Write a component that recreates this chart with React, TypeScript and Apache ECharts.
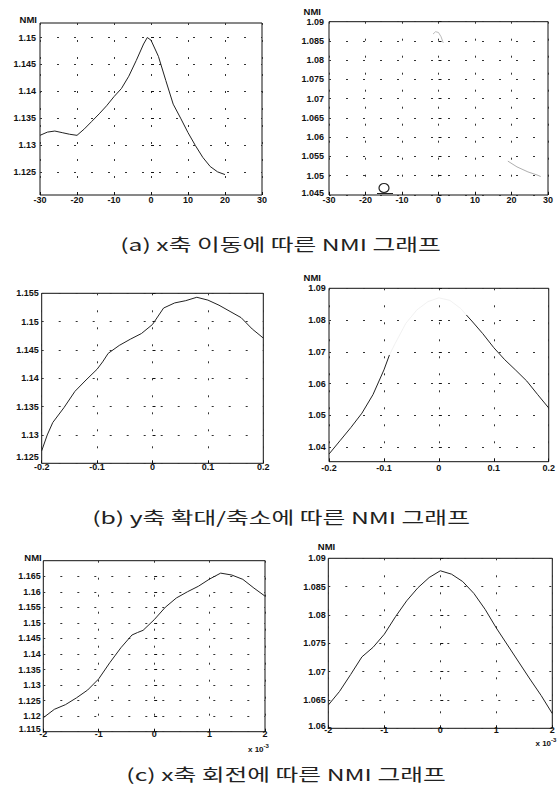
import React, { useEffect, useRef } from "react";
import * as echarts from "echarts";

// ---- data ----
const A1_X = [-30, -28, -26, -24, -22, -20, -18, -16, -14, -12, -10, -8, -6, -4, -2, -1, 0, 2, 4, 6, 8, 10, 12, 14, 16, 18, 20];
const A1_Y = [1.1318, 1.1324, 1.1326, 1.1323, 1.132, 1.1318, 1.133, 1.1344, 1.1358, 1.1373, 1.139, 1.1405, 1.1428, 1.1457, 1.1488, 1.15, 1.1495, 1.1465, 1.142, 1.1376, 1.135, 1.1323, 1.1299, 1.1277, 1.126, 1.125, 1.1245];

const A2_SEG1_X = [-1.5, -0.8, 0, 0.7, 1.3];
const A2_SEG1_Y = [1.0868, 1.0874, 1.0872, 1.0861, 1.0845];
const A2_SEG2_X = [19, 21.5, 24.5, 27, 28];
const A2_SEG2_Y = [1.0538, 1.0523, 1.051, 1.0502, 1.0498];

const B1_X = [-0.2, -0.19, -0.18, -0.16, -0.14, -0.12, -0.1, -0.09, -0.08, -0.06, -0.04, -0.02, 0, 0.02, 0.04, 0.06, 0.08, 0.1, 0.12, 0.14, 0.16, 0.18, 0.2];
const B1_Y = [1.1272, 1.13, 1.1322, 1.1348, 1.1377, 1.1397, 1.1416, 1.1429, 1.1444, 1.1458, 1.1469, 1.1479, 1.1495, 1.1524, 1.1533, 1.1537, 1.1543, 1.1538, 1.1529, 1.1518, 1.1507, 1.1487, 1.1471];

const B2_X = [-0.2, -0.18, -0.16, -0.14, -0.12, -0.1, -0.09, -0.08, -0.06, -0.04, -0.02, 0, 0.02, 0.04, 0.05, 0.06, 0.08, 0.1, 0.12, 0.14, 0.16, 0.18, 0.2];
const B2_Y = [1.0378, 1.042, 1.0462, 1.0507, 1.0565, 1.0643, 1.069, 1.0725, 1.079, 1.0832, 1.0858, 1.087, 1.0862, 1.0836, 1.0816, 1.0797, 1.0757, 1.0713, 1.0675, 1.0642, 1.0608, 1.0565, 1.0523];

const C1_X = [-2, -1.8, -1.6, -1.4, -1.2, -1, -0.8, -0.6, -0.4, -0.3, -0.2, 0, 0.2, 0.4, 0.6, 0.8, 1, 1.2, 1.4, 1.6, 1.8, 2];
const C1_Y = [1.1195, 1.1222, 1.1237, 1.1259, 1.1284, 1.132, 1.1372, 1.142, 1.1461, 1.1469, 1.1476, 1.151, 1.155, 1.158, 1.16, 1.1618, 1.1641, 1.166, 1.1654, 1.164, 1.1612, 1.1586];

const C2_X = [-2, -1.8, -1.6, -1.4, -1.2, -1, -0.8, -0.6, -0.4, -0.2, 0, 0.2, 0.4, 0.6, 0.8, 1, 1.2, 1.4, 1.6, 1.8, 2];
const C2_Y = [1.0641, 1.0665, 1.0695, 1.0726, 1.0743, 1.0766, 1.0797, 1.0825, 1.0848, 1.0866, 1.0878, 1.0872, 1.0859, 1.0838, 1.081, 1.0777, 1.0747, 1.0717, 1.0687, 1.0658, 1.0626];

// tick labels
const A1_YTICKS = [1.125, 1.13, 1.135, 1.14, 1.145, 1.15];
const A2_YTICKS = [1.045, 1.05, 1.055, 1.06, 1.065, 1.07, 1.075, 1.08, 1.085, 1.09];
const B1_YTICKS = [1.125, 1.13, 1.135, 1.14, 1.145, 1.15, 1.155];
const B2_YTICKS = [1.04, 1.05, 1.06, 1.07, 1.08, 1.09];
const C1_YTICKS = [1.115, 1.12, 1.125, 1.13, 1.135, 1.14, 1.145, 1.15, 1.155, 1.16, 1.165];
const C2_YTICKS = [1.06, 1.065, 1.07, 1.075, 1.08, 1.085, 1.09];

const Y_NAME = "NMI";
const CAPTIONS = [
  "(a) x축 이동에 따른 NMI 그래프",
  "(b) y축 확대/축소에 따른 NMI 그래프",
  "(c) x축 회전에 따른 NMI 그래프",
];

const pairs = (xs: number[], ys: (number | null)[]) => xs.map((x, i) => [x, ys[i] == null ? "-" : ys[i]]);

const LATIN = "Liberation Sans, Arial, sans-serif";
const TICK_FONT = { fontFamily: LATIN, fontSize: 9, fontWeight: "bold" as const, color: "#111" };
const SPLIT = { show: true, lineStyle: { color: "#333", type: [2, 15] as number[], width: 1 } };

export default function App() {
  const ref = useRef<HTMLDivElement>(null);
  useEffect(() => {
    if (!ref.current) return;
    const chart = echarts.init(ref.current, undefined, { renderer: "svg" });

    const gridPos = [
      { left: 40, top: 23, width: 222, height: 172 },
      { left: 329, top: 21.7, width: 219, height: 173.3 },
      { left: 41.7, top: 293.3, width: 221.6, height: 170 },
      { left: 329, top: 288.3, width: 221.7, height: 173.4 },
      { left: 43.3, top: 560.7, width: 221.7, height: 171 },
      { left: 328.3, top: 558.3, width: 224, height: 170 },
    ];
    const grids = gridPos.map((g) => ({ ...g, show: true, borderColor: "#111", borderWidth: 1, backgroundColor: "#fff" }));

    const xDefs = [
      { min: -30, max: 30, interval: 10, margin: 0 },
      { min: -30, max: 30, interval: 10, margin: 0 },
      { min: -0.2, max: 0.2, interval: 0.1, margin: -0.5 },
      { min: -0.2, max: 0.2, interval: 0.1, margin: 1.5 },
      { min: -2, max: 2, interval: 1, margin: -2.5 },
      { min: -2, max: 2, interval: 1, margin: -3 },
    ];
    // B1's lowest label is drawn separately (raised above the x labels, as in the reference)
    const yDefs = [
      { min: 1.1207, max: 1.1527, ticks: A1_YTICKS, labels: A1_YTICKS, margin: 4, liftMin: false },
      { min: 1.045, max: 1.09, ticks: A2_YTICKS, labels: A2_YTICKS, margin: 5, liftMin: true },
      { min: 1.125, max: 1.155, ticks: B1_YTICKS, labels: B1_YTICKS.slice(1), margin: 3, liftMin: false },
      { min: 1.0354, max: 1.09, ticks: B2_YTICKS, labels: B2_YTICKS, margin: 3.3, liftMin: false },
      { min: 1.115, max: 1.17, ticks: C1_YTICKS, labels: C1_YTICKS, margin: 2.6, liftMin: true },
      { min: 1.06, max: 1.09, ticks: C2_YTICKS, labels: C2_YTICKS, margin: 2.6, liftMin: true },
    ];

    const xAxis = xDefs.map((d, i) => ({
      type: "value",
      gridIndex: i,
      min: d.min,
      max: d.max,
      interval: d.interval,
      axisLine: { show: false },
      axisTick: { show: true, inside: true, length: 3, lineStyle: { color: "#111" } },
      axisLabel: { ...TICK_FONT, margin: d.margin, showMinLabel: true, showMaxLabel: true },
      splitLine: SPLIT,
    }));

    const yAxis = yDefs.map((d, i) => ({
      type: "value",
      gridIndex: i,
      min: d.min,
      max: d.max,
      axisLine: { show: false },
      axisTick: { show: true, inside: true, length: 3, customValues: d.ticks, lineStyle: { color: "#111" } },
      axisLabel: {
        ...TICK_FONT,
        margin: d.margin,
        customValues: d.labels,
        formatter: (v: number) => (d.liftMin && Math.abs(v - d.ticks[0]) < 1e-9 ? `{lo|${v}}` : `${v}`),
        rich: { lo: { ...TICK_FONT, padding: [0, 0, 5, 0] } },
      },
      splitLine: SPLIT,
    }));

    const line = (xi: number, data: any[], color = "#111", width = 1) => ({
      type: "line",
      xAxisIndex: xi,
      yAxisIndex: xi,
      data,
      showSymbol: false,
      symbol: "none",
      connectNulls: false,
      lineStyle: { color, width },
      silent: true,
    });

    const b2Solid = B2_X.map((x, i) => [x, x <= -0.09 || x >= 0.05 ? B2_Y[i] : "-"]);
    const b2Faint = B2_X.map((x, i) => [x, x >= -0.09 && x <= 0.05 ? B2_Y[i] : "-"]);

    const series = [
      line(0, pairs(A1_X, A1_Y), "#222", 1),
      line(1, pairs(A2_SEG1_X, A2_SEG1_Y), "#aaa", 0.8),
      line(1, pairs(A2_SEG2_X, A2_SEG2_Y), "#999", 0.8),
      line(2, pairs(B1_X, B1_Y), "#222", 1),
      line(3, b2Solid, "#222", 1),
      line(3, b2Faint, "#eeeeee", 0.8),
      line(4, pairs(C1_X, C1_Y), "#222", 1),
      line(5, pairs(C2_X, C2_Y), "#222", 1),
    ];

    const caption = (id: string, text: string, x: number, y: number) => ({
      id,
      type: "text",
      x,
      y,
      scaleX: 1.5,
      style: {
        text,
        fontFamily: "Noto Sans CJK KR, sans-serif",
        fontSize: 16.5,
        fill: "#222",
        textAlign: "center",
        textVerticalAlign: "middle",
      },
    });

    const nmi = (id: string, x: number, y: number, align: string) => ({
      id,
      type: "text",
      x,
      y,
      style: { text: Y_NAME, fontFamily: LATIN, fontSize: 9.5, fontWeight: "bold", fill: "#111", textAlign: align, textVerticalAlign: "middle" },
    });

    const sci = (id: string, x: number, y: number) => ({
      id,
      type: "text",
      x,
      y,
      style: {
        text: "{a|x 10}{b|-3}",
        rich: {
          a: { fontFamily: LATIN, fontSize: 8, fontWeight: "bold", fill: "#111" },
          b: { fontFamily: LATIN, fontSize: 6, fontWeight: "bold", fill: "#111", padding: [0, 0, 6, 0] },
        },
        textVerticalAlign: "middle",
      },
    });

    chart.setOption({
      animation: false,
      backgroundColor: "#fff",
      grid: grids,
      xAxis,
      yAxis,
      series,
      graphic: [
        caption("capA", CAPTIONS[0], 280.5, 244),
        caption("capB", CAPTIONS[1], 281, 517),
        caption("capC", CAPTIONS[2], 286, 774),
        nmi("nmiA1", 37, 19.5, "right"),
        nmi("nmiA2", 321, 11.5, "right"),
        nmi("nmiB2", 321, 277.5, "right"),
        nmi("nmiC1", 41.7, 557, "right"),
        nmi("nmiC2", 326.5, 546, "center"),
        sci("sciC1", 248, 749),
        sci("sciC2", 535.5, 743),
        { id: "scribble", type: "ellipse", shape: { cx: 384, cy: 188, rx: 5, ry: 4.5 }, style: { fill: "none", stroke: "#222", lineWidth: 1.2 } },
        { id: "scribbleLine", type: "line", shape: { x1: 377, y1: 193.5, x2: 393, y2: 193.5 }, style: { stroke: "#222", lineWidth: 1 } },
      ],
    });

    // lowest y label of plot (b)-left, placed through the axis scale, raised a little
    const yPix = chart.convertToPixel({ yAxisIndex: 2 }, B1_YTICKS[0]) as unknown as number;
    chart.setOption({
      graphic: [
        {
          id: "b1min",
          type: "text",
          x: gridPos[2].left - 3,
          y: yPix - 6,
          style: { text: String(B1_YTICKS[0]), fontFamily: LATIN, fontSize: 9, fontWeight: "bold", fill: "#111", textAlign: "right", textVerticalAlign: "middle" },
        },
      ],
    });

    return () => chart.dispose();
  }, []);

  return (
    <div
      ref={ref}
      style={{ position: "absolute", left: 0, top: 0, width: 558, height: 795, background: "#fff" }}
    />
  );
}
